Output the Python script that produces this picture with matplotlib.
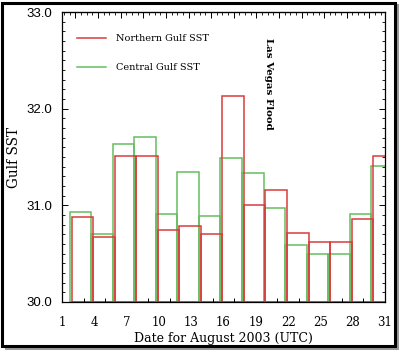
import numpy as np
import matplotlib
matplotlib.use('Agg')
import matplotlib.pyplot as plt
from matplotlib.lines import Line2D
from matplotlib.patches import Rectangle

# start date of each 2-day bar (August 2003)
north_dates = [1.9, 3.9, 5.9, 7.9, 9.9, 11.9, 13.9, 15.9, 17.9, 19.9, 21.9, 23.9, 25.9, 27.9, 29.9]
central_dates = [1.72, 3.72, 5.72, 7.72, 9.72, 11.72, 13.72, 15.72, 17.72, 19.72, 21.72, 23.72, 25.72, 27.72, 29.72]
north_sst = [30.88, 30.67, 31.51, 31.51, 30.75, 30.79, 30.70, 32.13, 31.00, 31.16, 30.71, 30.62, 30.62, 30.86, 31.51]
central_sst = [30.93, 30.70, 31.63, 31.71, 30.91, 31.34, 30.89, 31.49, 31.33, 30.97, 30.59, 30.50, 30.50, 30.91, 31.41]
xtick_days = [1, 4, 7, 10, 13, 16, 19, 22, 25, 28, 31]
ytick_vals = [30.0, 31.0, 32.0, 33.0]

red = '#d83c3c'
green = '#66bd5e'
serif = 'DejaVu Serif'

fig = plt.figure(figsize=(3.99, 3.5), dpi=100)
ax = fig.add_axes([62/399, 48/350, 323/399, 290/350])

base = 30.0
ax.bar(central_dates, np.array(central_sst) - base, width=2.0, bottom=base, align='edge',
       fill=False, edgecolor=green, linewidth=1.1)
ax.bar(north_dates, np.array(north_sst) - base, width=2.0, bottom=base, align='edge',
       fill=False, edgecolor=red, linewidth=1.1)

ax.set_xlim(1, 31)
ax.set_ylim(30, 33)

ax.set_xticks(xtick_days)
ax.set_xticklabels([str(d) for d in xtick_days], fontfamily=serif, fontsize=8.5)
ax.set_xticks(np.arange(3, 31, 2), minor=True)
ax.tick_params(axis='x', which='major', length=0, pad=10)
ax.tick_params(axis='x', which='minor', direction='in', length=3, width=0.7)

ax.set_yticks(ytick_vals)
ax.set_yticklabels([f'{v:.1f}' for v in ytick_vals], fontfamily='Liberation Sans', fontsize=9.5)
ax.set_yticks(np.arange(30, 33.001, 0.1), minor=True)
ax.tick_params(axis='y', which='major', direction='in', length=4.5, width=0.7,
               left=True, right=True, pad=7)
ax.tick_params(axis='y', which='minor', direction='in', length=2.5, width=0.6,
               left=True, right=True)

top = ax.secondary_xaxis('top')
top.set_xticks(np.arange(2.25, 31, 2.1))
top.set_xticks(np.arange(1.2, 31, 0.525), minor=True)
top.set_xticklabels([])
top.tick_params(which='major', direction='in', length=4, width=0.7)
top.tick_params(which='minor', direction='in', length=2.5, width=0.6)

for s in ax.spines.values():
    s.set_linewidth(0.9)

ax.set_xlabel('Date for August 2003 (UTC)', fontfamily=serif, fontsize=9, labelpad=2)
ax.set_ylabel('Gulf SST', fontfamily=serif, fontsize=9.8, labelpad=4)

ax.text(0.638, 0.912, 'Las Vegas Flood', transform=ax.transAxes, rotation=270,
        ha='center', va='top', fontfamily=serif, fontweight='bold', fontsize=7.4)

handles = [Line2D([], [], color=red, lw=1.1), Line2D([], [], color=green, lw=1.1)]
ax.legend(handles, ['Northern Gulf SST', 'Central Gulf SST'], loc='upper left',
          bbox_to_anchor=(0.046, 0.924), frameon=False, borderpad=0, borderaxespad=0,
          handlelength=3.0, handletextpad=1.0, labelspacing=2.1,
          prop={'family': serif, 'size': 7})

# picture frame with a small shadow
fig.patches.append(Rectangle((5/399, 0/350), 394/399, 346/350, transform=fig.transFigure,
                             facecolor='#9a9a9a', edgecolor='none', zorder=-2))
fig.patches.append(Rectangle((2/399, 4/350), 393/399, 343/350, transform=fig.transFigure,
                             facecolor='white', edgecolor='black', linewidth=2.2, zorder=-1))

fig.savefig('out.png', dpi=100)
